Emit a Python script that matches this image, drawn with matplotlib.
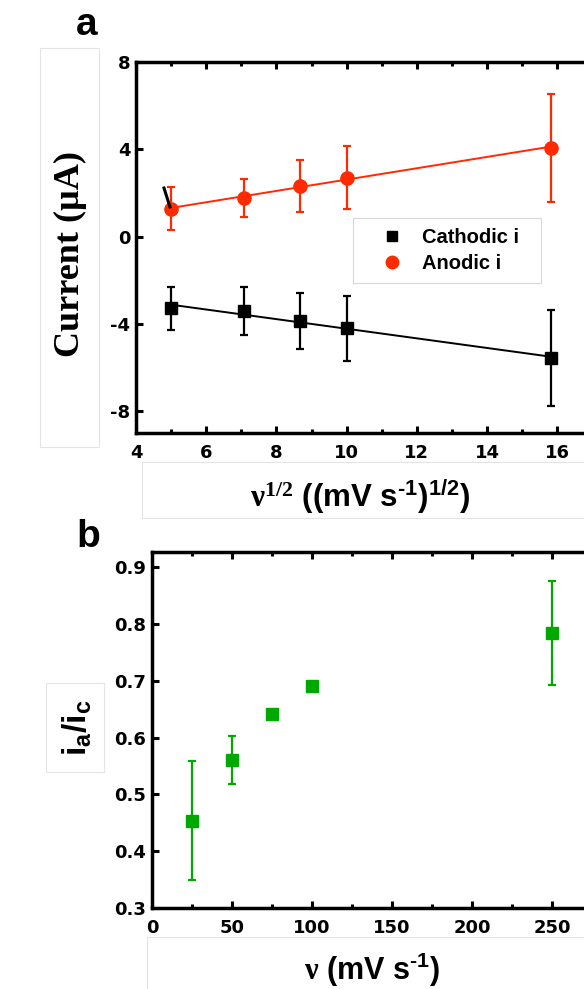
import numpy as np
import matplotlib
matplotlib.use("Agg")
import matplotlib.pyplot as plt
from matplotlib.lines import Line2D
from matplotlib.patches import Rectangle
from matplotlib.ticker import MultipleLocator

plt.rcParams['mathtext.fontset'] = 'custom'
plt.rcParams['mathtext.rm'] = 'Liberation Sans:bold'
plt.rcParams['mathtext.sf'] = 'Liberation Serif:bold'
plt.rcParams['mathtext.bf'] = 'Liberation Sans:bold'
plt.rcParams['mathtext.it'] = 'Liberation Sans:bold'
plt.rcParams['axes.unicode_minus'] = False

# ---- data panel a ----
sqrt_scan = [5.0, 7.07, 8.66, 10.0, 15.81]
cathodic_i = [-3.29, -3.43, -3.87, -4.20, -5.56]
cathodic_err = [1.00, 1.10, 1.30, 1.50, 2.20]
anodic_i = [1.28, 1.78, 2.33, 2.70, 4.07]
anodic_err = [1.00, 0.87, 1.20, 1.44, 2.47]

# ---- data panel b ----
scan_rate = [25, 50, 75, 100, 250]
ratio = [0.454, 0.560, 0.641, 0.690, 0.784]
ratio_err = [0.105, 0.042, 0.005, 0.004, 0.091]

legend_labels = ["Cathodic i", "Anodic i"]

RED = '#ff2a00'
GREEN = '#00a800'
W, H = 584, 989

fig = plt.figure(figsize=(W / 100, H / 100), dpi=100)

def fx(px):
    return px / W

def fy(py):
    return 1 - py / H

def style_axes(ax):
    for s in ['left', 'bottom', 'top']:
        ax.spines[s].set_linewidth(2.5)
    ax.spines['right'].set_visible(False)
    ax.tick_params(which='both', direction='in', top=True, right=False, width=2.2)
    ax.tick_params(axis='x', which='both', pad=8)
    ax.tick_params(axis='y', which='both', pad=4)
    ax.tick_params(which='major', length=5)
    ax.tick_params(which='minor', length=3)
    for lab in ax.get_xticklabels() + ax.get_yticklabels():
        lab.set_fontfamily('DejaVu Sans')
        lab.set_fontweight('bold')
        lab.set_fontsize(13)

# ---------------- panel a ----------------
axa = fig.add_axes([fx(136), fy(433), fx(584) - fx(136), fy(62) - fy(433)])
x = np.array(sqrt_scan)
for yv, ev, col, mk, ms in [(cathodic_i, cathodic_err, 'black', 's', 8.5),
                            (anodic_i, anodic_err, RED, 'o', 9.5)]:
    coef = np.polyfit(x, yv, 1)
    axa.plot([x[0], x[-1]], np.polyval(coef, [x[0], x[-1]]), color=col, lw=1.4, zorder=2)
    axa.errorbar(x, yv, yerr=ev, fmt=mk, color=col, ms=ms, elinewidth=1.6,
                 capsize=3, capthick=1.6, zorder=3)
axa.set_xlim(4, 4 + (584 - 136) / 35.1)
axa.set_ylim(-9, 8)
axa.xaxis.set_major_locator(MultipleLocator(2))
axa.xaxis.set_minor_locator(MultipleLocator(1))
axa.set_yticks([-8, -4, 0, 4, 8])
style_axes(axa)

# legend (frame drawn separately to match the wide box of the source)
axa.add_patch(Rectangle((fx(353), fy(283)), fx(541) - fx(353), fy(218) - fy(283),
                        transform=fig.transFigure, facecolor='white',
                        edgecolor='#d8d8d8', lw=0.8, zorder=4, clip_on=False))
handles = [Line2D([], [], ls='none', marker='s', color='black', ms=7),
           Line2D([], [], ls='none', marker='o', color=RED, ms=9)]
leg = axa.legend(handles, legend_labels, loc='upper left',
                 bbox_to_anchor=(fx(378), fy(228)), bbox_transform=fig.transFigure,
                 borderaxespad=0, borderpad=0, frameon=False,
                 prop=dict(family='Liberation Sans', weight='bold', size=14.5),
                 handlelength=1.4, handletextpad=0.8, labelspacing=0.36)
leg.set_zorder(6)

fig.text(fx(70), fy(254), 'Current (\u00b5A)', rotation=90, ha='center', va='center',
         family='Liberation Serif', weight='bold', fontsize=26)
fig.text(fx(360), fy(497), r'$\mathsf{\nu^{1/2}}$ ((mV s$^{\text{-1}}$)$^{\mathbf{1/2}}$)',
         ha='center', va='center', family='Liberation Sans', weight='bold', fontsize=22.5)
fig.text(fx(87), fy(25), 'a', ha='center', va='center', family='Liberation Sans',
         weight='bold', fontsize=28)

# ---------------- panel b ----------------
axb = fig.add_axes([fx(152), fy(908), fx(584) - fx(152), fy(552) - fy(908)])
axb.errorbar(scan_rate, ratio, yerr=ratio_err, fmt='s', color=GREEN, ms=8,
             elinewidth=1.6, capsize=3, capthick=1.6)
axb.set_xlim(0, (584 - 152) / 1.6)
axb.set_ylim(0.3, 0.3 + (908 - 552) / 568.0)
axb.xaxis.set_major_locator(MultipleLocator(50))
axb.xaxis.set_minor_locator(MultipleLocator(25))
axb.set_yticks([0.3, 0.4, 0.5, 0.6, 0.7, 0.8, 0.9])
style_axes(axb)

fig.text(fx(77), fy(728), r'$\mathbf{i_a/i_c}$', rotation=90, ha='center', va='center',
         family='Liberation Sans', weight='bold', fontsize=24)
fig.text(fx(372), fy(970), r'$\mathsf{\nu}$ (mV s$^{\text{-1}}$)',
         ha='center', va='center', family='Liberation Sans', weight='bold', fontsize=22)
fig.text(fx(88), fy(537), 'b', ha='center', va='center', family='Liberation Sans',
         weight='bold', fontsize=28)

# faint artefact boxes present in the source image
for (x0, y0, x1, y1) in [(40, 48, 99, 447), (142, 462, 600, 518),
                         (46, 683, 104, 772), (147, 937, 600, 995)]:
    fig.add_artist(Rectangle((fx(x0), fy(y1)), fx(x1) - fx(x0), fy(y0) - fy(y1),
                             transform=fig.transFigure, fill=False,
                             ec='#e4e4e4', lw=0.8, zorder=0))
fig.add_artist(Line2D([fx(164), fx(170)], [fy(188), fy(207)], transform=fig.transFigure,
                      color='black', lw=2.2, zorder=10))

fig.savefig('out.png', dpi=100)
